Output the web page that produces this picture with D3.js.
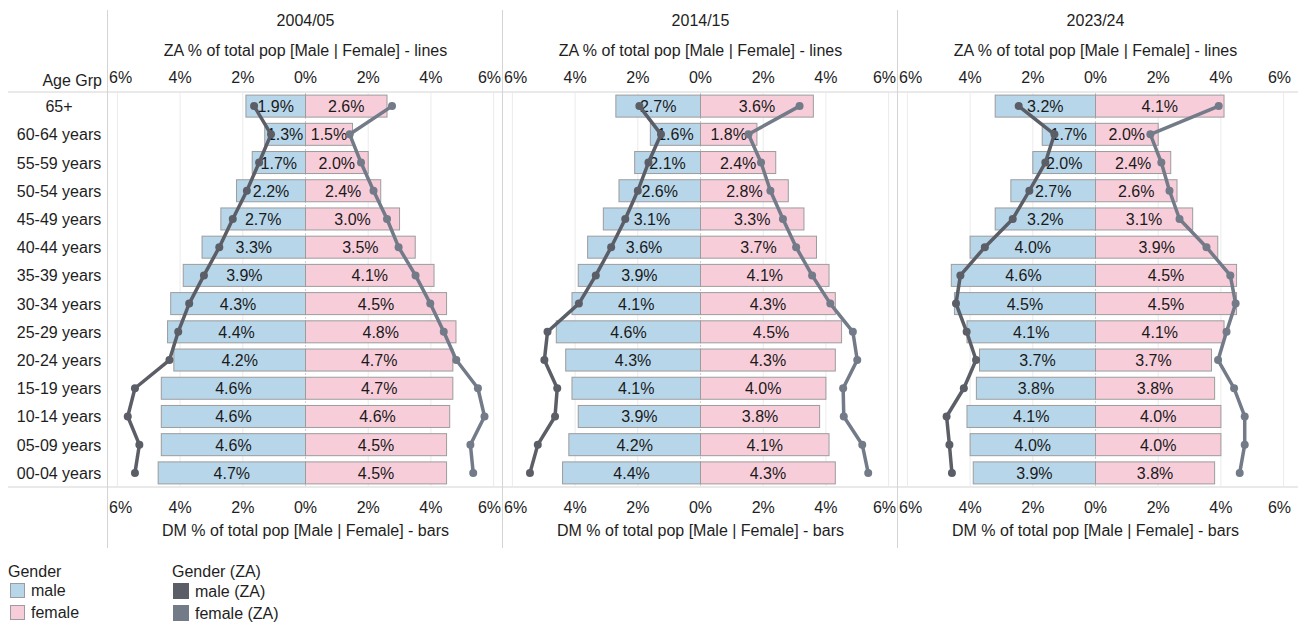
<!DOCTYPE html>
<html><head><meta charset="utf-8">
<script src="https://cdn.jsdelivr.net/npm/d3@7"></script>
<style>
body{margin:0;background:#fff;font-family:Arial,"Liberation Sans",sans-serif;}
svg text{font-family:Arial,"Liberation Sans",sans-serif;}
</style></head>
<body><svg id="c" width="1298" height="622"></svg>
<script>
const ageGroups = ["65+","60-64 years","55-59 years","50-54 years","45-49 years","40-44 years","35-39 years","30-34 years","25-29 years","20-24 years","15-19 years","10-14 years","05-09 years","00-04 years"];
const periods = ["2004/05","2014/15","2023/24"];
const tickValues = [-6,-4,-2,0,2,4,6];

// DM bars (% of total pop)
const dmMale = [
  [1.9,1.3,1.7,2.2,2.7,3.3,3.9,4.3,4.4,4.2,4.6,4.6,4.6,4.7],
  [2.7,1.6,2.1,2.6,3.1,3.6,3.9,4.1,4.6,4.3,4.1,3.9,4.2,4.4],
  [3.2,1.7,2.0,2.7,3.2,4.0,4.6,4.5,4.1,3.7,3.8,4.1,4.0,3.9]
];
const dmFemale = [
  [2.6,1.5,2.0,2.4,3.0,3.5,4.1,4.5,4.8,4.7,4.7,4.6,4.5,4.5],
  [3.6,1.8,2.4,2.8,3.3,3.7,4.1,4.3,4.5,4.3,4.0,3.8,4.1,4.3],
  [4.1,2.0,2.4,2.6,3.1,3.9,4.5,4.5,4.1,3.7,3.8,4.0,4.0,3.8]
];
// ZA lines (% of total pop)
const zaMale = [
  [1.64,1.10,1.48,1.87,2.32,2.75,3.24,3.71,4.06,4.34,5.44,5.67,5.30,5.44],
  [1.95,1.26,1.66,2.00,2.40,2.85,3.34,3.88,4.88,4.98,4.57,4.64,5.19,5.44],
  [2.45,1.31,1.60,2.11,2.64,3.53,4.31,4.45,4.11,3.81,4.20,4.75,4.66,4.58]
];
const zaFemale = [
  [2.76,1.41,1.77,2.17,2.60,2.97,3.51,3.98,4.41,4.81,5.50,5.71,5.26,5.35],
  [3.16,1.53,1.93,2.23,2.63,3.05,3.56,4.14,4.86,5.00,4.55,4.57,5.16,5.35],
  [3.93,1.75,2.10,2.36,2.68,3.54,4.30,4.47,4.18,3.91,4.42,4.76,4.76,4.60]
];

const svg = d3.select("#c");
const FS = 16;
const C = {male:"#b7d6ea", female:"#f8cdda", stroke:"#9c9c9c", zaMale:"#5b5e66", zaFemale:"#737a88", grid:"#ebebeb", sep:"#d4d4d4", text:"#1e1e1e"};
const plotTop = 92, plotBottom = 487;
const panelW = 395, panelX0 = 108;
const y = d3.scaleBand().domain(ageGroups).range([plotTop, plotBottom]).paddingInner(0.22).paddingOuter(0.11);

// separators
svg.append("line").attr("x1",8).attr("x2",1298).attr("y1",plotTop).attr("y2",plotTop).attr("stroke",C.sep);
svg.append("line").attr("x1",8).attr("x2",1298).attr("y1",plotBottom).attr("y2",plotBottom).attr("stroke",C.sep);

// Row labels
svg.append("text").attr("x",102).attr("y",86).attr("text-anchor","end").attr("font-size",FS).attr("fill",C.text).text("Age Grp");
svg.selectAll("text.age").data(ageGroups).join("text").attr("class","age")
  .attr("x",59).attr("y",d=>y(d)+y.bandwidth()/2+6).attr("text-anchor","middle")
  .attr("font-size",FS).attr("fill",C.text).text(d=>d);

periods.forEach((p,i)=>{
  const x0 = panelX0 + i*panelW;
  const x = d3.scaleLinear().domain([-6.3,6.3]).range([x0, x0+panelW]);
  const g = svg.append("g");
  g.append("line").attr("x1",x0-0.5).attr("x2",x0-0.5).attr("y1",10).attr("y2",548).attr("stroke",C.sep);
  g.selectAll("line.grid").data(tickValues.filter(t=>t!==0)).join("line").attr("class","grid")
    .attr("x1",d=>x(d)).attr("x2",d=>x(d)).attr("y1",plotTop+1).attr("y2",plotBottom-1).attr("stroke",C.grid);
  g.append("line").attr("x1",x(0)).attr("x2",x(0)).attr("y1",plotTop+1).attr("y2",plotBottom-1)
    .attr("stroke","#cfcfcf").attr("stroke-dasharray","2,2");
  g.append("text").attr("x",x(0)).attr("y",26).attr("text-anchor","middle").attr("font-size",FS).attr("fill",C.text).text(p);
  g.append("text").attr("x",x(0)).attr("y",56).attr("text-anchor","middle").attr("font-size",FS).attr("fill",C.text).text("ZA % of total pop [Male | Female] - lines");
  g.append("text").attr("x",x(0)).attr("y",536).attr("text-anchor","middle").attr("font-size",FS).attr("fill",C.text).text("DM % of total pop [Male | Female] - bars");
  const tickLabel = (yy)=>g.selectAll(null).data(tickValues).join("text")
    .attr("x",d=> d===-6 ? x0+1 : d===6 ? x0+panelW-2 : x(d))
    .attr("y",yy)
    .attr("text-anchor",d=> d===-6 ? "start" : d===6 ? "end" : "middle")
    .attr("font-size",FS).attr("fill",C.text).text(d=>Math.abs(d)+"%");
  tickLabel(83); tickLabel(513);
  g.selectAll("rect.m").data(ageGroups).join("rect").attr("class","m")
    .attr("x",(d,j)=>x(-dmMale[i][j])).attr("y",d=>y(d)).attr("width",(d,j)=>x(0)-x(-dmMale[i][j])).attr("height",y.bandwidth())
    .attr("fill",C.male).attr("stroke",C.stroke).attr("stroke-width",1);
  g.selectAll("rect.f").data(ageGroups).join("rect").attr("class","f")
    .attr("x",x(0)).attr("y",d=>y(d)).attr("width",(d,j)=>x(dmFemale[i][j])-x(0)).attr("height",y.bandwidth())
    .attr("fill",C.female).attr("stroke",C.stroke).attr("stroke-width",1);
  g.selectAll("text.ml").data(ageGroups).join("text").attr("class","ml")
    .attr("x",(d,j)=>(x(-dmMale[i][j])+x(0))/2).attr("y",d=>y(d)+y.bandwidth()/2+6)
    .attr("text-anchor","middle").attr("font-size",FS).attr("fill","#1a1a1a").text((d,j)=>dmMale[i][j].toFixed(1)+"%");
  g.selectAll("text.fl").data(ageGroups).join("text").attr("class","fl")
    .attr("x",(d,j)=>(x(dmFemale[i][j])+x(0))/2).attr("y",d=>y(d)+y.bandwidth()/2+6)
    .attr("text-anchor","middle").attr("font-size",FS).attr("fill","#1a1a1a").text((d,j)=>dmFemale[i][j].toFixed(1)+"%");
  const cy = d=>y(d)+y.bandwidth()/2;
  const lm = d3.line().x((d,j)=>x(-zaMale[i][j])).y(d=>cy(d));
  const lf = d3.line().x((d,j)=>x(zaFemale[i][j])).y(d=>cy(d));
  g.append("path").attr("d",lm(ageGroups)).attr("fill","none").attr("stroke",C.zaMale).attr("stroke-width",3.5).attr("stroke-linejoin","round");
  g.append("path").attr("d",lf(ageGroups)).attr("fill","none").attr("stroke",C.zaFemale).attr("stroke-width",3.5).attr("stroke-linejoin","round");
  g.selectAll("circle.zm").data(ageGroups).join("circle").attr("class","zm")
    .attr("cx",(d,j)=>x(-zaMale[i][j])).attr("cy",cy).attr("r",4).attr("fill",C.zaMale);
  g.selectAll("circle.zf").data(ageGroups).join("circle").attr("class","zf")
    .attr("cx",(d,j)=>x(zaFemale[i][j])).attr("cy",cy).attr("r",4).attr("fill",C.zaFemale);
});

// Legend
const lg = svg.append("g");
lg.append("text").attr("x",8).attr("y",577).attr("font-size",FS).attr("fill",C.text).text("Gender");
[["male",C.male],["female",C.female]].forEach((e,k)=>{
  lg.append("rect").attr("x",10.5).attr("y",583.5+k*22).attr("width",14).attr("height",14).attr("fill",e[1]).attr("stroke",C.stroke);
  lg.append("text").attr("x",31).attr("y",596+k*22).attr("font-size",FS).attr("fill",C.text).text(e[0]);
});
lg.append("text").attr("x",172).attr("y",577).attr("font-size",FS).attr("fill",C.text).text("Gender (ZA)");
[["male (ZA)",C.zaMale],["female (ZA)",C.zaFemale]].forEach((e,k)=>{
  lg.append("rect").attr("x",173).attr("y",583+k*22).attr("width",16).attr("height",16).attr("fill",e[1]);
  lg.append("text").attr("x",195).attr("y",597+k*22).attr("font-size",FS).attr("fill",C.text).text(e[0]);
});
</script></body></html>
